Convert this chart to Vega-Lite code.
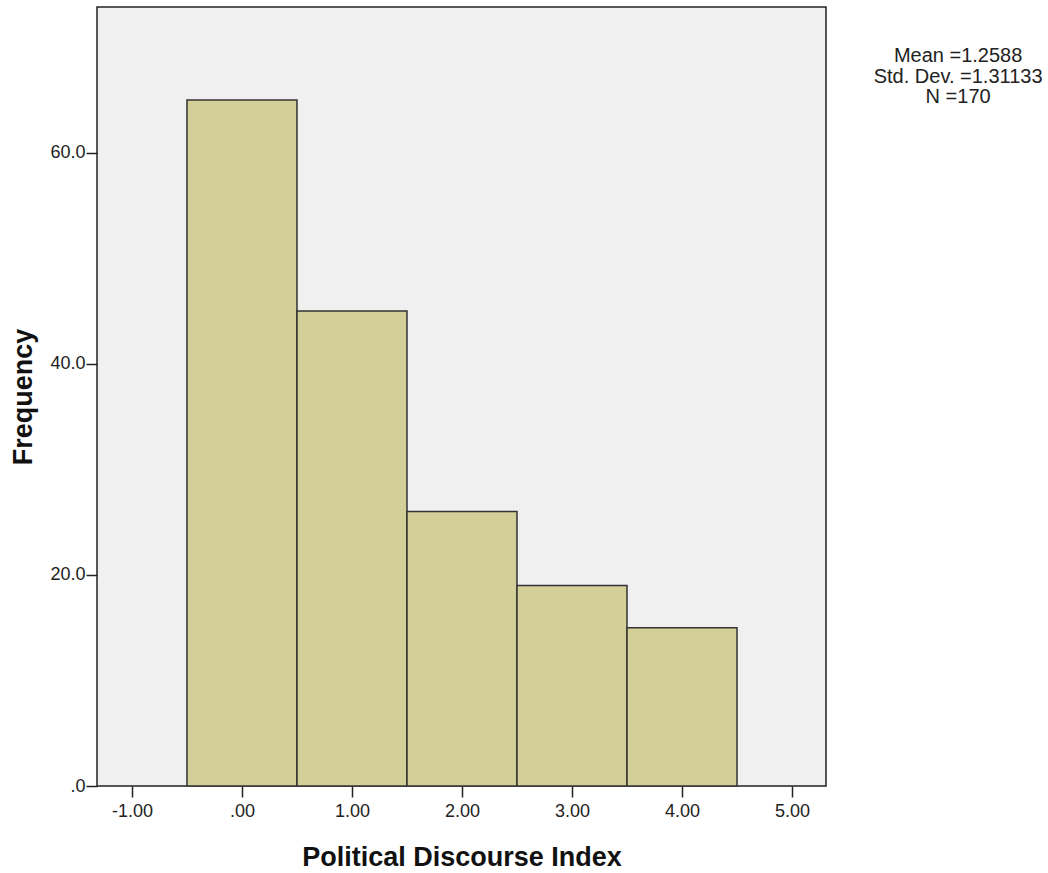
{
  "$schema": "https://vega.github.io/schema/vega-lite/v6.json",
  "width": 729,
  "height": 779,
  "autosize": {"type": "none"},
  "padding": {"left": 97, "top": 7, "right": 222, "bottom": 87},
  "background": "white",
  "config": {
    "font": "Liberation Sans",
    "view": {"fill": "#F0F0F0", "stroke": "#222222", "strokeWidth": 1.5},
    "axis": {"grid": false, "domain": false, "tickColor": "#222222", "tickSize": 11, "tickWidth": 1.5,
             "labelColor": "#222222", "labelFontSize": 18, "labelFont": "Liberation Sans",
             "titleFont": "Liberation Sans", "titleFontSize": 27, "titleFontWeight": "bold", "titleColor": "#111111"}
  },
  "layer": [
    {
      "data": {"values": [
        {"bin_start": -0.5, "bin_end": 0.5, "count": 65},
        {"bin_start": 0.5, "bin_end": 1.5, "count": 45},
        {"bin_start": 1.5, "bin_end": 2.5, "count": 26},
        {"bin_start": 2.5, "bin_end": 3.5, "count": 19},
        {"bin_start": 3.5, "bin_end": 4.5, "count": 15}
      ]},
      "mark": {"type": "rect", "fill": "#D3CF98", "stroke": "#333333", "strokeWidth": 1.5},
      "encoding": {
        "x": {"field": "bin_start", "type": "quantitative",
              "scale": {"domain": [-1.318, 5.309], "nice": false, "zero": false},
              "axis": {"title": "Political Discourse Index", "values": [-1, 0, 1, 2, 3, 4, 5],
                       "labelExpr": "datum.value == 0 ? '.00' : replace(format(datum.value, '.2f'), '−', '-')",
                       "labelPadding": 5, "titlePadding": 24}},
        "x2": {"field": "bin_end"},
        "y": {"field": "count", "type": "quantitative",
              "scale": {"domain": [0, 73.8], "nice": false},
              "axis": {"title": "Frequency", "values": [0, 20, 40, 60],
                       "labelExpr": "datum.value == 0 ? '.0' : format(datum.value, '.1f')",
                       "labelPadding": 1, "titlePadding": 12}}
      }
    },
    {
      "data": {"values": [{"stats": "Mean =1.2588\nStd. Dev. =1.31133\nN =170"}]},
      "mark": {"type": "text", "align": "center", "baseline": "top", "fontSize": 20, "lineHeight": 20.5,
               "lineBreak": "\n", "color": "#222222", "clip": false, "font": "Liberation Sans"},
      "encoding": {
        "text": {"field": "stats", "type": "nominal"},
        "x": {"datum": 6.51, "type": "quantitative"},
        "y": {"datum": 70.1, "type": "quantitative"}
      }
    }
  ]
}
